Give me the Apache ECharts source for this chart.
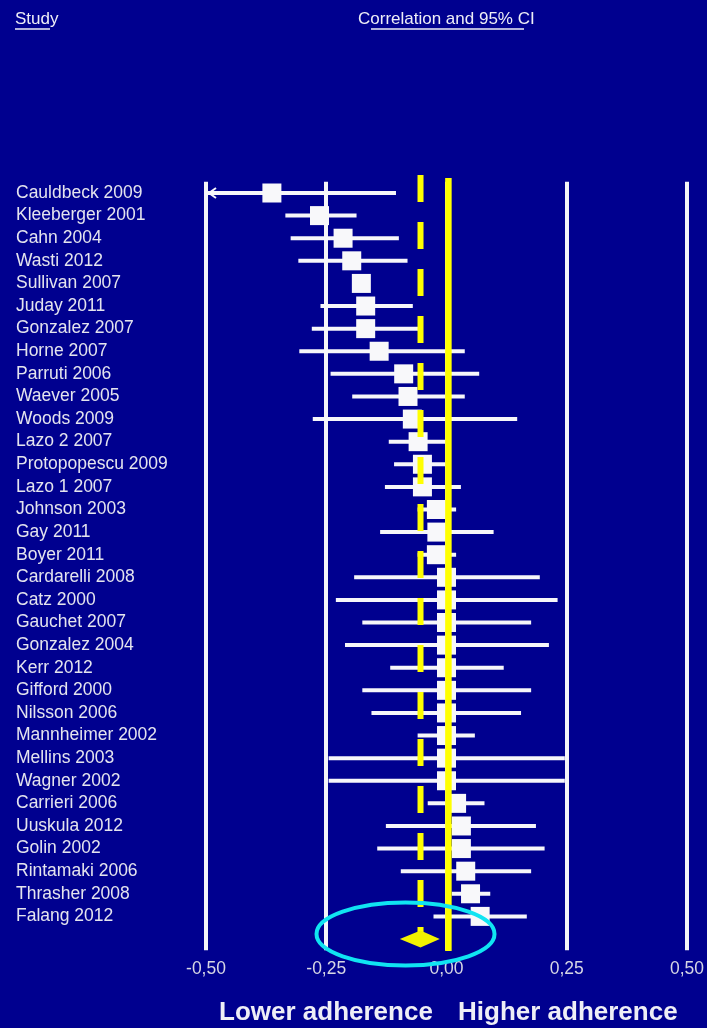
<!DOCTYPE html>
<html>
<head>
<meta charset="utf-8">
<script src="https://cdn.jsdelivr.net/npm/echarts@6/dist/echarts.min.js"></script>
<style>
  html, body { margin: 0; padding: 0; background: #00008f; }
  #chart { width: 707px; height: 1028px; }
</style>
</head>
<body>
<div id="chart"></div>
<script>
// Forest plot: correlation of each study with 95% confidence interval
const studies = [
  'Cauldbeck 2009', 'Kleeberger 2001', 'Cahn 2004', 'Wasti 2012', 'Sullivan 2007',
  'Juday 2011', 'Gonzalez 2007', 'Horne 2007', 'Parruti 2006', 'Waever 2005',
  'Woods 2009', 'Lazo 2 2007', 'Protopopescu 2009', 'Lazo 1 2007', 'Johnson 2003',
  'Gay 2011', 'Boyer 2011', 'Cardarelli 2008', 'Catz 2000', 'Gauchet 2007',
  'Gonzalez 2004', 'Kerr 2012', 'Gifford 2000', 'Nilsson 2006', 'Mannheimer 2002',
  'Mellins 2003', 'Wagner 2002', 'Carrieri 2006', 'Uuskula 2012', 'Golin 2002',
  'Rintamaki 2006', 'Thrasher 2008', 'Falang 2012'
];
const correlation = [
  -0.363, -0.264, -0.215, -0.197, -0.177,
  -0.168, -0.168, -0.140, -0.089, -0.080,
  -0.071, -0.059, -0.050, -0.050, -0.021,
  -0.020, -0.021, 0.000, 0.000, 0.000,
  0.000, 0.000, 0.000, 0.000, 0.000,
  0.000, 0.000, 0.021, 0.031, 0.031,
  0.040, 0.050, 0.070
];
const ciLower = [
  -0.560, -0.335, -0.324, -0.308, -0.190,
  -0.262, -0.280, -0.306, -0.241, -0.196,
  -0.278, -0.120, -0.109, -0.128, -0.060,
  -0.138, -0.060, -0.192, -0.230, -0.175,
  -0.211, -0.117, -0.175, -0.156, -0.060,
  -0.245, -0.245, -0.039, -0.126, -0.144,
  -0.095, 0.011, -0.027
];
const ciUpper = [
  -0.105, -0.187, -0.099, -0.081, -0.160,
  -0.070, -0.057, 0.038, 0.068, 0.038,
  0.147, 0.000, 0.000, 0.030, 0.020,
  0.098, 0.020, 0.194, 0.231, 0.176,
  0.213, 0.119, 0.176, 0.155, 0.059,
  0.246, 0.246, 0.079, 0.186, 0.204,
  0.176, 0.091, 0.167
];
// Pooled (summary) estimate and its confidence interval
const pooled = { estimate: -0.054, lower: -0.097, upper: -0.014 };
const noEffect = 0.004;
const xTicks = [-0.5, -0.25, 0, 0.25, 0.5];

const FONT = '"Liberation Sans", Arial, sans-serif';
const X_MIN = xTicks[0], X_MAX = xTicks[xTicks.length - 1];
const categories = studies.concat(['']);
const pooledRow = studies.length;

const studyData = studies.map((s, i) => [i, correlation[i], ciLower[i], ciUpper[i]]);

const chart = echarts.init(document.getElementById('chart'), null, { renderer: 'canvas' });

function renderStudy(params, api) {
  const row = api.value(0);
  const est = api.value(1), lo = api.value(2), hi = api.value(3);
  const p = api.coord([est, row]);
  const a = api.coord([Math.max(lo, X_MIN), row]);
  const b = api.coord([Math.min(hi, X_MAX), row]);
  const sq = 19;
  const children = [
    { type: 'line', shape: { x1: a[0], y1: a[1], x2: b[0], y2: b[1] },
      style: { stroke: '#f6f6fa', lineWidth: 4 } },
    { type: 'rect', shape: { x: p[0] - sq / 2, y: p[1] - sq / 2, width: sq, height: sq },
      style: { fill: '#f8f8fa' } }
  ];
  if (lo < X_MIN) {
    // truncated interval: open arrowhead at the axis edge
    children.push({ type: 'polyline',
      shape: { points: [[a[0] + 10, a[1] - 5], [a[0] + 3, a[1]], [a[0] + 10, a[1] + 5]] },
      style: { stroke: '#f6f6fa', lineWidth: 2, fill: null } });
  }
  return { type: 'group', children };
}

function renderRefLines(params, api) {
  const band = api.size([0, 1])[1];
  const z0 = api.coord([noEffect, 0]);
  const pe = api.coord([pooled.estimate, 0]);
  const pr = api.coord([pooled.estimate, pooledRow]);
  return {
    type: 'group',
    children: [
      { type: 'line', shape: { x1: z0[0], y1: z0[1] - 0.66 * band, x2: z0[0], y2: pr[1] + 0.53 * band },
        style: { stroke: '#ffff00', lineWidth: 6.5 } },
      { type: 'line', shape: { x1: pe[0], y1: pe[1] - 0.8 * band, x2: pe[0], y2: pr[1] },
        style: { stroke: '#ffff00', lineWidth: 6, lineDash: [27, 20] } }
    ]
  };
}

function renderPooled(params, api) {
  const row = api.value(0);
  const p = api.coord([api.value(1), row]);
  const a = api.coord([api.value(2), row]);
  const b = api.coord([api.value(3), row]);
  const h = 8.5;
  return {
    type: 'group',
    children: [
      { type: 'polygon',
        shape: { points: [[a[0], p[1]], [p[0], p[1] - h], [b[0], p[1]], [p[0], p[1] + h]] },
        style: { fill: '#f2f200' } },
      { type: 'ellipse', shape: { cx: p[0] - 15, cy: p[1] - 5, rx: 89, ry: 31.5 },
        style: { fill: null, stroke: '#10e4f2', lineWidth: 4 } }
    ]
  };
}

const option = {
  backgroundColor: '#00008f',
  animation: false,
  grid: { left: 206, right: 20, top: 181.7, bottom: 77.7 },
  xAxis: {
    type: 'value', min: X_MIN, max: X_MAX, interval: 0.25,
    axisLine: { show: false }, axisTick: { show: false },
    splitLine: { show: true, lineStyle: { color: '#f4f4f8', width: 4 } },
    axisLabel: {
      color: '#d6d6e4', fontSize: 17.5, fontFamily: FONT, margin: 10,
      formatter: v => v.toFixed(2).replace('.', ',')
    }
  },
  yAxis: {
    type: 'category', inverse: true, data: categories,
    axisLine: { show: false }, axisTick: { show: false }, splitLine: { show: false },
    axisLabel: { interval: 0, align: 'left', margin: 190, color: '#e4e4ee', fontSize: 17.5, fontFamily: FONT }
  },
  series: [
    { type: 'custom', name: 'Studies', data: studyData, renderItem: renderStudy, z: 2,
      encode: { x: [1, 2, 3], y: 0 } },
    { type: 'custom', name: 'Reference', data: [[0]], renderItem: renderRefLines, z: 3 },
    { type: 'custom', name: 'Pooled', data: [[pooledRow, pooled.estimate, pooled.lower, pooled.upper]],
      renderItem: renderPooled, z: 4, encode: { x: [1, 2, 3], y: 0 } }
  ],
  graphic: [
    { type: 'text', left: 15, top: 11, style: { text: 'Study', fill: '#eeeef6', font: '17px ' + FONT } },
    { type: 'line', shape: { x1: 15, y1: 29, x2: 50, y2: 29 }, style: { stroke: '#eeeef6', lineWidth: 1.5 } },
    { type: 'text', left: 358, top: 11, style: { text: 'Correlation and 95% CI', fill: '#eeeef6', font: '17px ' + FONT } },
    { type: 'line', shape: { x1: 371, y1: 29, x2: 524, y2: 29 }, style: { stroke: '#eeeef6', lineWidth: 1.5 } },
    { type: 'text', left: 219, top: 1000, style: { text: 'Lower adherence', fill: '#eeeef6', font: 'bold 26px ' + FONT } },
    { type: 'text', left: 458, top: 1000, style: { text: 'Higher adherence', fill: '#eeeef6', font: 'bold 26px ' + FONT } }
  ]
};
chart.setOption(option);
</script>
</body>
</html>
